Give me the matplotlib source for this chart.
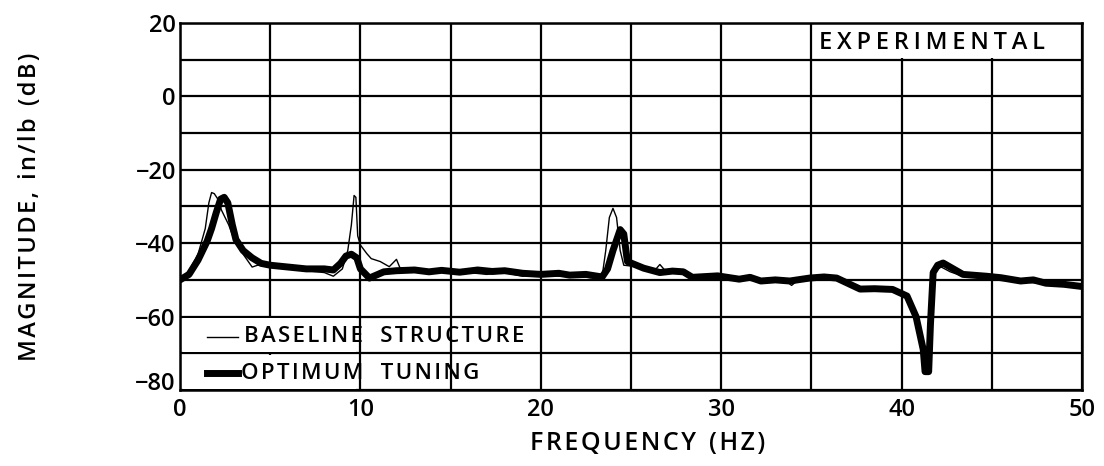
import matplotlib
matplotlib.use("Agg")
import matplotlib.pyplot as plt
from matplotlib.patches import Rectangle
from matplotlib.transforms import ScaledTranslation

plt.rcParams['font.family'] = ['Open Sans', 'Liberation Sans', 'DejaVu Sans']

# Baseline structure (thin line)
base_f = [0, 0.5, 1.0, 1.4, 1.6, 1.75, 1.9, 2.1, 2.3, 2.7, 3.0, 3.5, 4.0, 4.3, 5, 6, 7, 8, 8.5, 9.0,
          9.3, 9.5, 9.65, 9.75, 9.85, 10.0, 10.35, 10.6, 11.1, 11.6, 12.0, 12.2, 13, 14, 15, 16, 17, 18,
          19, 20, 21, 22, 23, 23.4, 23.6, 23.8, 24.0, 24.2, 24.4, 24.6, 25.5, 26.3, 26.6, 26.9, 28, 28.5,
          30, 31, 32.5, 33.6, 33.9, 34.2, 35, 36.4, 37.7, 39.5, 40.3, 40.8, 41.2, 41.35, 41.5, 41.65,
          41.85, 42.2, 42.7, 43.4, 44.7, 46.6, 48, 50]
base_db = [-50, -47.5, -43, -36, -29, -26.2, -26.5, -28, -31, -35, -39, -43, -46.5, -46, -46.3, -47, -47.5, -48, -49, -47,
           -42, -35, -27, -27.5, -38, -40.5, -42.8, -44.2, -45, -46.4, -44.4, -46.8, -47.5, -47.8, -47.5, -48, -48.5, -48,
           -49, -48.5, -49, -49, -49.5, -49, -42, -33, -30.5, -33, -42, -46, -46.5, -47.5, -45.8, -47.5, -47.8, -49.5,
           -49, -49.8, -50, -50.3, -51.5, -50.3, -49.5, -49.5, -52.5, -52.7, -54.6, -60, -69, -74, -68, -55,
           -47.5, -46.5, -47.8, -49, -49.1, -50.5, -51, -52]

# Optimum tuning (thick line)
opt_f = [0, 0.5, 1.0, 1.5, 1.75, 2.0, 2.25, 2.45, 2.65, 2.9, 3.1, 3.5, 4, 4.5, 5, 6, 7, 8, 8.5, 8.9,
         9.2, 9.5, 9.8, 10.0, 10.5, 11.3, 12, 13, 13.8, 14.5, 15.5, 16.5, 17.3, 18, 19, 20, 21, 21.6,
         22.5, 23.4, 23.7, 24.0, 24.4, 24.6, 24.8, 25.7, 26.6, 27.3, 27.9, 28.4, 29.8, 31, 31.6, 32.2,
         33.0, 33.8, 34.9, 35.7, 36.4, 37.7, 38.5, 39.5, 40.3, 40.8, 41.2, 41.3, 41.5, 41.6, 41.75,
         42.0, 42.3, 43.4, 44.7, 45.5, 46.6, 47.3, 48, 49, 50]
opt_db = [-50, -48.5, -44.6, -39.5, -36, -31.8, -28, -27.5, -29, -35, -39, -42, -44, -45.5, -46, -46.5, -47, -47, -47.3, -45.5,
          -43.5, -43, -44, -47, -49.5, -47.8, -47.5, -47.3, -47.8, -47.4, -47.9, -47.3, -47.7, -47.5, -48.2, -48.5, -48.2, -48.7,
          -48.5, -49.2, -47, -42, -36.3, -37.5, -45, -46.8, -48, -47.6, -47.8, -49.3, -48.9, -49.8, -49.3, -50.3,
          -50.0, -50.3, -49.5, -49.2, -49.5, -52.5, -52.4, -52.6, -54.4, -60, -69, -75, -75, -62, -48,
          -46, -45.4, -48.5, -49, -49.4, -50.3, -50.0, -50.9, -51.2, -51.8]

x_ticks = [0, 10, 20, 30, 40, 50]
y_ticks = [20, 0, -20, -40, -60, -80]


def track(s, sep):
    return ' '.join(sep.join(w) for w in s.split(' '))


fig = plt.figure(figsize=(11.04, 4.66), dpi=100)
ax = fig.add_axes([180/1104, 1-390/466, (1082-180)/1104, (390-23)/466])

ax.set_xlim(0, 50)
ax.set_ylim(-80, 20)
ax.set_xticks(x_ticks)
ax.set_yticks(y_ticks)
ax.set_xticks(range(0, 51, 5), minor=True)
ax.set_yticks(range(-80, 21, 10), minor=True)
ax.grid(True, which='both', color='black', linewidth=1.6, zorder=0.5)
ax.set_axisbelow(True)
ax.tick_params(which='both', length=0, labelsize=17)
ax.tick_params(axis='x', pad=6)
ax.tick_params(axis='y', pad=3)
for lab in ax.get_xticklabels() + ax.get_yticklabels():
    lab.set_fontweight('semibold')
ylabs = ax.get_yticklabels()
ylabs[-1].set_transform(ylabs[-1].get_transform() + ScaledTranslation(0, 0.09, fig.dpi_scale_trans))
for s in ax.spines.values():
    s.set_linewidth(1.8)

# White covers (label box and legend area)
ax.add_patch(Rectangle((35.15, 10.4), 14.7, 9.2, facecolor='white', edgecolor='none', zorder=1))
ax.add_patch(Rectangle((0.15, -69.6), 9.6, 9.2, facecolor='white', edgecolor='none', zorder=1))
ax.add_patch(Rectangle((0.15, -79.6), 9.6, 9.2, facecolor='white', edgecolor='none', zorder=1))

ax.plot(base_f, base_db, color='black', linewidth=1.0, zorder=3)
ax.plot(opt_f, opt_db, color='black', linewidth=5.0, zorder=2, solid_capstyle='round', solid_joinstyle='round')

ax.text(41.7, 14.6, track('EXPERIMENTAL', '\u2009'), ha='center', va='center', fontsize=17,
        fontweight='semibold', zorder=4)

# Legend
ax.plot([1.5, 3.2], [-65.5, -65.5], color='black', linewidth=1.0, zorder=4)
ax.text(3.55, -65.5, track('BASELINE   STRUCTURE', '\u200a'),
        ha='left', va='center', fontsize=16, fontweight='semibold', zorder=4)
ax.plot([1.5, 3.2], [-75.5, -75.5], color='black', linewidth=5.0, zorder=4)
ax.text(3.4, -75.5, track('OPTIMUM   TUNING', '\u200a'),
        ha='left', va='center', fontsize=16, fontweight='semibold', zorder=4)

ax.set_xlabel(track('FREQUENCY  (HZ)', '\u200a'), fontsize=18, fontweight='semibold')
ax.xaxis.set_label_coords((648 - 180) / (1082 - 180), -(444 - 390) / (390 - 23))
ax.xaxis.label.set_va('center')
ax.set_ylabel(track('MAGNITUDE,  in/lb  (dB)', '\u200a'), fontsize=17, fontweight='semibold')
ax.yaxis.set_label_coords(-(180 - 30) / (1082 - 180), (390 - 207) / (390 - 23))
ax.yaxis.label.set_va('center')

fig.savefig('out.png', dpi=100)
